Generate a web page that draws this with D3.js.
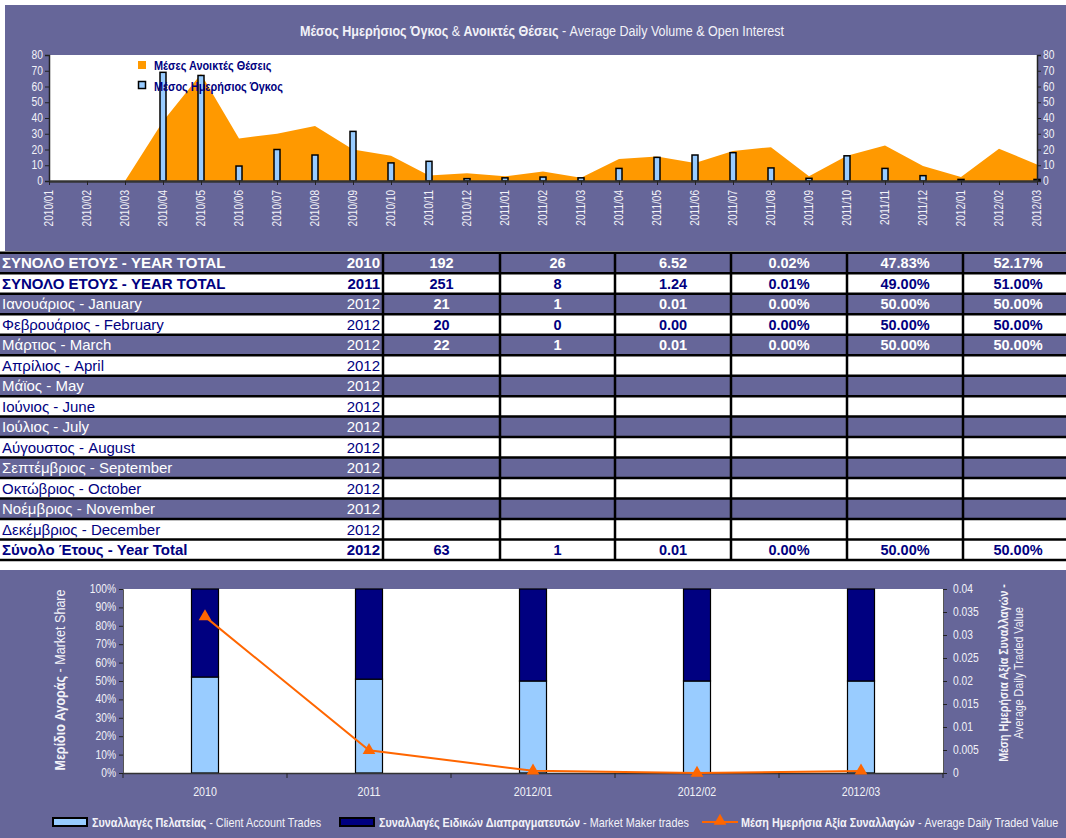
<!DOCTYPE html>
<html><head><meta charset="utf-8">
<script src="https://cdn.jsdelivr.net/npm/d3@7"></script>
<style>
html,body{margin:0;padding:0;background:#fff;}
svg{display:block;}
</style></head>
<body>
<svg id="chart" width="1066" height="838"></svg>
<script>
// ---------- DATA ----------
const months = ["2010/01","2010/02","2010/03","2010/04","2010/05","2010/06","2010/07","2010/08","2010/09","2010/10","2010/11","2010/12",
  "2011/01","2011/02","2011/03","2011/04","2011/05","2011/06","2011/07","2011/08","2011/09","2011/10","2011/11","2011/12",
  "2012/01","2012/02","2012/03"];
const openInterest = [0,0,0,38,68,27,30,35,20,16,3.5,5,3,6,2,14,15.5,11.5,19,21.5,3,16,22.5,9.5,2.5,20.5,10.5];
const dailyVolume  = [0,0,0,69,67,9.5,20,16.5,31.5,11.5,12.5,1.5,2,2.5,2,8,15,16.5,18,8.3,1.7,16,8,3.4,1,0,1];
const topTicks = [0,10,20,30,40,50,60,70,80];

const tableLabels = ["ΣΥΝΟΛΟ ΕΤΟΥΣ - YEAR TOTAL","ΣΥΝΟΛΟ ΕΤΟΥΣ - YEAR TOTAL","Ιανουάριος - January","Φεβρουάριος - February","Μάρτιος - March",
  "Απρίλιος - April","Μάϊος - May","Ιούνιος - June","Ιούλιος - July","Αύγουστος - August","Σεπτέμβριος - September",
  "Οκτώβριος - October","Νοέμβριος - November","Δεκέμβριος - December","Σύνολο Έτους - Year Total"];
const tableYears = ["2010","2011","2012","2012","2012","2012","2012","2012","2012","2012","2012","2012","2012","2012","2012"];
const tableValues = [
  ["192","26","6.52","0.02%","47.83%","52.17%"],
  ["251","8","1.24","0.01%","49.00%","51.00%"],
  ["21","1","0.01","0.00%","50.00%","50.00%"],
  ["20","0","0.00","0.00%","50.00%","50.00%"],
  ["22","1","0.01","0.00%","50.00%","50.00%"],
  [],[],[],[],[],[],[],[],[],
  ["63","1","0.01","0.00%","50.00%","50.00%"]
];
const tableBoldLabel = [true,true,false,false,false,false,false,false,false,false,false,false,false,false,true];

const shareCats = ["2010","2011","2012/01","2012/02","2012/03"];
const clientShare = [0.5217,0.51,0.50,0.50,0.50];
const makerShare  = [0.4783,0.49,0.50,0.50,0.50];
const avgTradedValue = [0.034,0.00494,0.000476,0,0.000455];
const leftTicks = [0,0.1,0.2,0.3,0.4,0.5,0.6,0.7,0.8,0.9,1];
const rightTicks = [0,0.005,0.01,0.015,0.02,0.025,0.03,0.035,0.04];

// ---------- STYLE ----------
const PURPLE = "#666699", ORANGE = "#FF9900", LBLUE = "#99CCFF", NAVY = "#000080", LINE = "#FF6600";
const ARIAL = "'Liberation Sans',Arial,sans-serif";
const NS = 0.82; // narrow horizontal scale (Arial Narrow look)
const TXT = "#f2f2f8";

const svg = d3.select("#chart");

function ntext(parent, x, y, opts={}){
  const rot = opts.rotate ? ` rotate(${opts.rotate})` : "";
  const g = parent.append("g").attr("transform",`translate(${x},${y})${rot} scale(${NS},1)`);
  return g.append("text").attr("font-family",ARIAL).attr("font-size",opts.size||12)
    .attr("fill",opts.fill||TXT).attr("text-anchor",opts.anchor||"start")
    .attr("font-weight",opts.weight||"normal");
}

// ================= TOP CHART =================
svg.append("rect").attr("x",5).attr("y",5).attr("width",1061).attr("height",246).attr("fill",PURPLE);

const title = ntext(svg, 542, 36, {anchor:"middle", size:15.3});
title.append("tspan").attr("font-weight","bold").text("Μέσος Ημερήσιος Όγκος");
title.append("tspan").text(" & ");
title.append("tspan").attr("font-weight","bold").text("Ανοικτές Θέσεις");
title.append("tspan").text(" - Average Daily Volume & Open Interest");

const tx = d3.scalePoint().domain(months).range([49,1037]);
const ty = d3.scaleLinear().domain([0,80]).range([181,55]);

svg.append("rect").attr("x",49).attr("y",55).attr("width",988).attr("height",126).attr("fill","#fff");

svg.append("path").datum(openInterest)
  .attr("d", d3.area().x((d,i)=>tx(months[i])).y0(ty(0)).y1(d=>ty(d)))
  .attr("fill",ORANGE);

svg.append("g").selectAll("rect").data(dailyVolume.map((v,i)=>({m:months[i],v})).filter(d=>d.v>0))
  .join("rect")
  .attr("x",d=>tx(d.m)-3).attr("width",6)
  .attr("y",d=>ty(d.v)).attr("height",d=>ty(0)-ty(d.v))
  .attr("fill",LBLUE).attr("stroke","#000").attr("stroke-width",1.5);

function topYAxis(x, orient){
  const ax = (orient==="left"?d3.axisLeft(ty):d3.axisRight(ty)).tickValues(topTicks).tickSize(4).tickFormat("");
  const g = svg.append("g").attr("transform",`translate(${x},0)`).call(ax);
  g.selectAll(".tick line").attr("stroke","#222");
  g.select(".domain").attr("stroke","#222").attr("stroke-width",1.5);
  topTicks.forEach(v=>{
    ntext(svg, orient==="left"? x-6 : x+6, ty(v)+4, {size:12.5, anchor: orient==="left"?"end":"start"}).text(v);
  });
}
topYAxis(49,"left");
topYAxis(1037,"right");
const xg = svg.append("g").attr("transform","translate(0,181)")
  .call(d3.axisBottom(tx).tickSize(4).tickSizeOuter(0).tickFormat(""));
xg.selectAll(".tick line").attr("stroke","#222");
xg.select(".domain").attr("stroke-width",2.5).attr("stroke","#333");
months.forEach(m=>{
  const g = svg.append("g").attr("transform",`translate(${tx(m)+4},${190}) rotate(-90) scale(${NS},1)`);
  g.append("text").attr("font-family",ARIAL).attr("font-size",12.3).attr("fill",TXT)
    .attr("text-anchor","end").text(m);
});

// top legend
const tl = svg.append("g");
tl.append("rect").attr("x",138).attr("y",61).attr("width",8).attr("height",8).attr("fill",ORANGE);
ntext(tl,154,70,{size:13.3,weight:"bold",fill:NAVY}).text("Μέσες Ανοικτές Θέσεις");
tl.append("rect").attr("x",138.5).attr("y",81.5).attr("width",7).attr("height",7).attr("fill",LBLUE).attr("stroke","#000").attr("stroke-width",1.5);
ntext(tl,154,91,{size:13.3,weight:"bold",fill:NAVY}).text("Μέσος Ημερήσιος Όγκος");

// ================= TABLE =================
const rowTop = 252.7, rowH = 20.49;
const colEdges = [383,500,615,731,847,963,1073];
const tbl = svg.append("g");
tableLabels.forEach((lab,i)=>{
  const y = rowTop + i*rowH;
  const purple = i%2===0 && i!==14;
  const fg = purple ? "#fff" : NAVY;
  tbl.append("rect").attr("x",0).attr("y",y).attr("width",1066).attr("height",rowH).attr("fill",purple?PURPLE:"#fff");
  tbl.append("text").attr("x",2).attr("y",y+rowH/2+5.5).attr("font-family",ARIAL).attr("font-size",15)
    .attr("font-weight",tableBoldLabel[i]?"bold":"normal").attr("fill",fg).text(lab);
  tbl.append("text").attr("x",380).attr("y",y+rowH/2+5.5).attr("text-anchor","end").attr("font-family",ARIAL).attr("font-size",15)
    .attr("font-weight",tableBoldLabel[i]?"bold":"normal").attr("fill",fg).text(tableYears[i]);
  tableValues[i].forEach((v,j)=>{
    tbl.append("text").attr("x",(colEdges[j]+colEdges[j+1])/2).attr("y",y+rowH/2+5.5)
      .attr("text-anchor","middle").attr("font-family",ARIAL).attr("font-size",14.5).attr("font-weight","bold")
      .attr("fill",fg).text(v);
  });
});
for(let i=0;i<=tableLabels.length;i++){
  tbl.append("line").attr("x1",0).attr("x2",1066).attr("y1",rowTop+i*rowH).attr("y2",rowTop+i*rowH)
    .attr("stroke","#000").attr("stroke-width",2.5);
}
colEdges.slice(0,6).forEach(x=>{
  tbl.append("line").attr("x1",x).attr("x2",x).attr("y1",rowTop).attr("y2",rowTop+15*rowH)
    .attr("stroke","#000").attr("stroke-width",2.5);
});

// ================= BOTTOM CHART =================
svg.append("rect").attr("x",0).attr("y",570).attr("width",1066).attr("height",268).attr("fill",PURPLE);
const bx = d3.scaleBand().domain(shareCats).range([123,943]);
const byL = d3.scaleLinear().domain([0,1]).range([773,589]);
const byR = d3.scaleLinear().domain([0,0.04]).range([773,589]);
svg.append("rect").attr("x",123).attr("y",589).attr("width",820).attr("height",184).attr("fill","#fff");

const bw = 27;
const bars = svg.append("g");
shareCats.forEach((c,i)=>{
  const cx = bx(c)+bx.bandwidth()/2;
  bars.append("rect").attr("x",cx-bw/2).attr("width",bw)
    .attr("y",byL(clientShare[i])).attr("height",byL(0)-byL(clientShare[i]))
    .attr("fill",LBLUE).attr("stroke","#000").attr("stroke-width",1.2);
  bars.append("rect").attr("x",cx-bw/2).attr("width",bw)
    .attr("y",byL(clientShare[i]+makerShare[i])).attr("height",byL(clientShare[i])-byL(clientShare[i]+makerShare[i]))
    .attr("fill",NAVY).attr("stroke","#000").attr("stroke-width",1.2);
});

const lg = svg.append("g").attr("transform","translate(123,0)")
  .call(d3.axisLeft(byL).tickValues(leftTicks).tickFormat("").tickSize(4));
lg.selectAll(".tick line").attr("stroke","#222");
lg.select(".domain").attr("stroke","#555");
leftTicks.forEach(v=>ntext(svg,116,byL(v)+4,{size:12.5,anchor:"end"}).text(d3.format(".0%")(v)));
const rg = svg.append("g").attr("transform","translate(943,0)")
  .call(d3.axisRight(byR).tickValues(rightTicks).tickFormat("").tickSize(4));
rg.selectAll(".tick line").attr("stroke","#222");
rg.select(".domain").attr("stroke","#555");
rightTicks.forEach(v=>ntext(svg,953,byR(v)+4,{size:12.5}).text(String(+v.toFixed(3))));
const bxAxis = svg.append("g").attr("transform","translate(0,773)")
  .call(d3.axisBottom(bx).tickSize(0).tickFormat(""));
bxAxis.select(".domain").attr("stroke","#333").attr("stroke-width",1.5);
shareCats.forEach(c=>ntext(svg,bx(c)+bx.bandwidth()/2,796,{size:13,anchor:"middle"}).text(c));
svg.append("g").selectAll("line").data(d3.range(shareCats.length+1))
  .join("line")
  .attr("x1",i=>bx.range()[0]+i*bx.step()).attr("x2",i=>bx.range()[0]+i*bx.step())
  .attr("y1",773).attr("y2",778).attr("stroke","#222");

// line series
const pts = avgTradedValue.map((v,i)=>[bx(shareCats[i])+bx.bandwidth()/2, byR(v)]);
svg.append("path").attr("d",d3.line()(pts)).attr("fill","none").attr("stroke",LINE).attr("stroke-width",2);
const tri = d3.symbol().type(d3.symbolTriangle).size(70);
svg.append("g").selectAll("path").data(pts).join("path")
  .attr("transform",d=>`translate(${d[0]},${d[1]})`).attr("d",tri()).attr("fill",LINE);

// axis titles
const lt = ntext(svg, 65, 680, {rotate:-90, anchor:"middle", size:15.3});
lt.append("tspan").attr("font-weight","bold").text("Μερίδιο Αγοράς");
lt.append("tspan").text(" - Market Share");
const rt = ntext(svg, 1008, 673, {rotate:-90, anchor:"middle", size:13});
rt.append("tspan").attr("x",0).attr("dy",0).attr("font-weight","bold").text("Μέση Ημερήσια Αξία Συναλλαγών -");
rt.append("tspan").attr("x",0).attr("dy",15).text("Average Daily Traded Value");

// bottom legend
const leg = svg.append("g");
const legItems = [
  {x:53, type:"box", fill:LBLUE, bold:"Συναλλαγές Πελατείας", rest:" - Client Account Trades"},
  {x:340, type:"box", fill:NAVY, bold:"Συναλλαγές Ειδικών Διαπραγματευτών", rest:" - Market Maker trades"},
  {x:702, type:"line", fill:LINE, bold:"Μέση Ημερήσια Αξία Συναλλαγών", rest:" - Average Daily Traded Value"}
];
legItems.forEach(it=>{
  if(it.type==="box"){
    leg.append("rect").attr("x",it.x).attr("y",818).attr("width",34).attr("height",8)
      .attr("fill",it.fill).attr("stroke","#000").attr("stroke-width",2);
  } else {
    leg.append("line").attr("x1",it.x).attr("x2",it.x+36).attr("y1",822).attr("y2",822)
      .attr("stroke",LINE).attr("stroke-width",2);
    leg.append("path").attr("transform",`translate(${it.x+18},821)`).attr("d",tri()).attr("fill",LINE);
  }
  const t = ntext(leg, it.x+39, 827, {size:13.2});
  t.append("tspan").attr("font-weight","bold").text(it.bold);
  t.append("tspan").text(it.rest);
});
</script>
</body></html>
